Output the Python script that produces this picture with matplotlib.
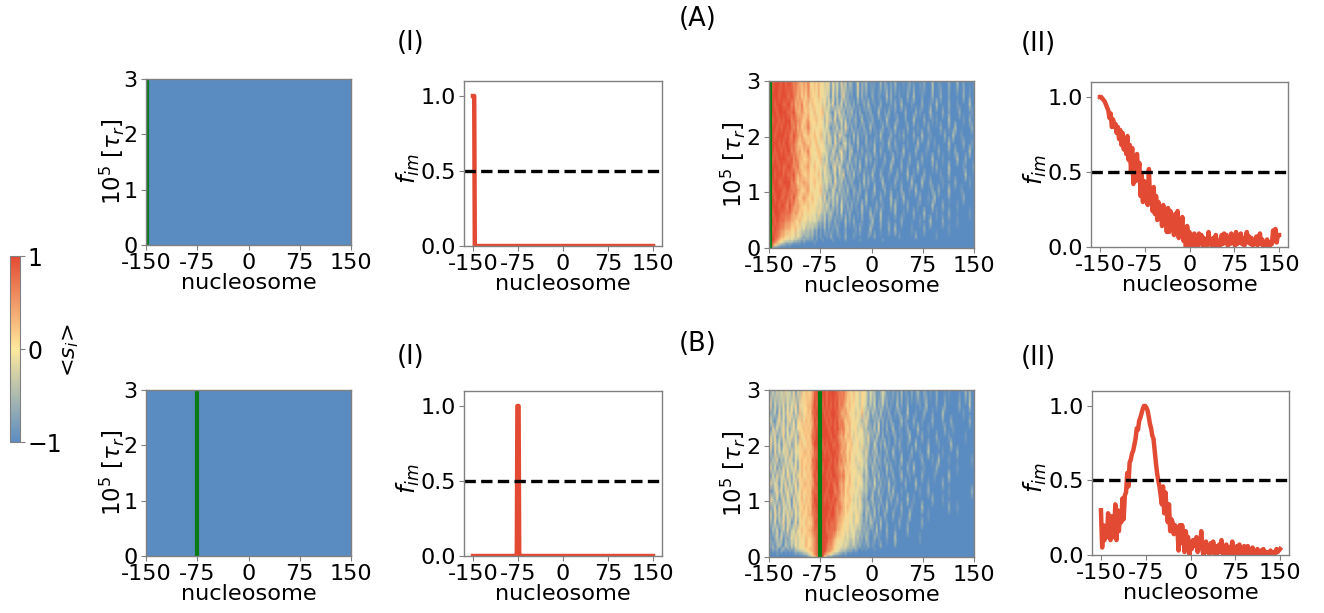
import numpy as np
import matplotlib
matplotlib.use("Agg")
import matplotlib.pyplot as plt
from matplotlib.colors import LinearSegmentedColormap, Normalize
from matplotlib.cm import ScalarMappable

W, H = 1324, 613
XTICKS = [-150, -75, 0, 75, 150]
XTICKLABELS = ["-150", "-75", "0", "75", "150"]
YTICKS_T = [0, 1, 2, 3]
YTICKS_F = [0.0, 0.5, 1.0]
SITE_A = -149
SITE_B = -75

# f_im, panel (II) of row A, one value every 2 nucleosomes from -150
FIM_A2 = [
    1.0,1.0,.99,.98,.97,.95,.93,.91,.86,.89,
    .80,.85,.80,.82,.76,.80,.72,.78,.68,.76,
    .65,.72,.62,.74,.58,.68,.50,.66,.42,.60,
    .44,.62,.50,.56,.34,.48,.30,.44,.32,.40,
    .28,.52,.30,.36,.24,.40,.22,.34,.18,.30,
    .20,.24,.14,.28,.18,.20,.10,.26,.10,.24,
    .14,.20,.08,.22,.10,.24,.06,.18,.10,.20,
    .04,.12,.00,.14,.05,.10,.00,.08,.03,.09,
    .00,.07,.00,.09,.03,.08,.01,.06,.00,.03,
    .01,.10,.02,.05,.00,.06,.00,.08,.02,.04,
    .00,.04,.08,.02,.09,.03,.08,.01,.05,.02,
    .09,.03,.06,.01,.10,.02,.07,.03,.09,.02,
    .06,.01,.05,.10,.03,.07,.02,.06,.01,.04,
    .02,.07,.01,.03,.09,.02,.05,.00,.03,.01,
    .05,.02,.00,.03,.02,.11,.04,.12,.03,.08,
    .08,
]
# f_im, panel (II) of row B
FIM_B2 = [
    .30,.05,.20,.10,.18,.12,.28,.14,.10,.26,
    .17,.12,.34,.10,.30,.16,.28,.22,.38,.24,
    .40,.42,.55,.46,.62,.64,.68,.70,.74,.78,
    .85,.84,.90,.92,.95,.98,1.0,1.0,.99,.97,
    .93,.88,.85,.80,.78,.70,.62,.55,.50,.46,
    .40,.34,.46,.28,.42,.30,.22,.34,.16,.24,
    .22,.14,.20,.16,.18,.03,.20,.08,.20,.12,
    .02,.16,.10,.12,.00,.08,.04,.10,.06,.08,
    .12,.02,.10,.05,.16,.03,.00,.07,.09,.02,
    .06,.00,.08,.02,.09,.01,.06,.00,.03,.07,
    .02,.10,.01,.04,.00,.07,.02,.05,.00,.03,
    .09,.01,.04,.00,.06,.02,.07,.00,.03,.01,
    .06,.00,.02,.06,.00,.03,.01,.05,.00,.02,
    .00,.04,.01,.00,.03,.00,.04,.01,.00,.02,
    .00,.01,.03,.00,.02,.00,.01,.04,.02,.03,
    .04,
]
# f_im, panels (I)
FIM_POS_A1 = [-150, -149, -148, -147, 150]
FIM_VAL_A1 = [1.0, 1.0, 1.0, 0.0, 0.0]
FIM_POS_B1 = [-150, -78, -77, -76, -75, -74, -73, -72, 150]
FIM_VAL_B1 = [0.0, 0.0, 0.0, 1.0, 1.0, 1.0, 0.0, 0.0, 0.0]

# time of each heat-map row (units of 1e5 tau_r), bottom to top
TIME_ROWS = [0, .05, .10, .15, .20, .34, .48, .62, .76, .90, 1.04, 1.18, 1.32, 1.46,
             1.60, 1.74, 1.88, 2.02, 2.16, 2.30, 2.44, 2.58, 2.72, 3.0]

# <s_i>: digits 0..9 stand for -1..1; first row is the top slice, each digit 3 nucleosomes
HEAT_A = [
    "9989998989 9878766768 5465645354 1524151403 2015021301 0100302001 0300010020 0001020003 0010000200 0300100001",
    "9899989998 8987675657 6554654433 0413025120 1003020100 2001000302 0001000200 3000100002 0002000100 0000200100",
    "9998999889 9786768566 4655453524 2503140312 0201002030 0100200001 0200300001 0000200010 0300000200 0100000300",
    "8999899998 8897667656 5464556343 1042513021 3010200102 0003001020 0100002000 0201000030 0000200100 0020000010",
    "9989989899 9788776567 5556454253 3150241302 0120030010 2000100300 0020001000 3000020001 0100000300 0000100200",
    "9999898998 9878675668 6454554342 0214031520 2010102003 0100020010 0300000200 0010000200 0002000100 3000000020",
    "8998999989 8798767556 5565463425 2140532101 0302010200 0010300002 0001020000 2000300010 0000020003 0001000000",
    "9899989899 8887656765 6456445323 3052103412 0103000201 0200010030 0200000100 0030000200 1000000300 0000200010",
    "9998998989 9787675668 5545654432 1420351202 3001020010 0300200001 0010030000 0200001000 0020000100 2000000300",
    "9989899998 8978766556 6454563241 3215042103 0120100302 0010002000 3000100020 0000200003 0000100000 0300020000",
    "8999989889 9877865667 5465443532 0351420130 2010300100 0200010003 0000200100 0030000001 0200000300 0000100002",
    "9998999898 8897676556 5554652433 2140325012 0301002010 3000200010 0020000300 1000020000 0001000200 0000030000",
    "9899988999 9787566766 4565453342 3052130201 2000103020 0100030000 0200100003 0000300020 0000100000 2000000100",
    "9989999889 8878765567 5454563231 1420312030 0210200100 0300002001 0000200010 0300000002 0020000300 0001000000",
    "9998998898 8797656765 5645442503 2314021201 0102000300 1000200003 0010030000 0002000100 3000000100 0000200000",
    "8999989987 9876765556 4554353242 0312041020 2010030100 0020010002 0300000200 0010000003 0000200000 0100000000",
    "9989998888 8767656545 5443532312 3102030102 0001020003 0100300000 0200010000 2000030000 0100000200 0000000100",
    "9998988877 7665564453 4343221302 1020100301 0200010000 3000200010 0000200000 0001000030 0000200000 0100000000",
    "9989887766 6556443423 2312010201 0102000100 0010200003 0000100020 0300000001 0000020000 0000000100 0000000000",
    "9998876654 5443432122 1201010010 2000100200 0100000010 0200000000 0001000000 0200000000 0100000000 0000000000",
    "9998765544 3433221211 1101001000 0100000100 0000100000 0000010000 0000000000 0000000000 0000000000 0000000000",
    "9987654322 2211110100 0010000000 0000000000 0000000000 0000000000 0000000000 0000000000 0000000000 0000000000",
    "9975321110 1000000000 0000000000 0000000000 0000000000 0000000000 0000000000 0000000000 0000000000 0000000000",
    "9310000000 0000000000 0000000000 0000000000 0000000000 0000000000 0000000000 0000000000 0000000000 0000000000",
]
HEAT_B = [
    "3141524253 4150526465 5689899989 9998878765 4645355414 3210243010 2010301002 0130020010 0200000100 0000030200",
    "2504132514 2435154556 6798998989 8989787656 5544354313 1402130201 0030100200 0001003000 0100020000 0020000300",
    "4123051425 3514263556 5889999898 9998866765 4535463240 3120301020 0102000300 0100020001 0000300000 0000100000",
    "2410352413 5241546465 6698999989 8989787566 5454323521 0213020102 0000301000 2000100002 0000100020 0000000200",
    "3052413524 1352455656 5789899998 9989878656 4553452312 1304010200 3001000200 0030000100 0000020001 0000000000",
    "1425032514 3524164565 6889989999 8998767566 5354443251 2031020010 0200100030 0000200000 0200000100 0000010000",
    "3514240352 4125356456 5799998989 9889876755 6445353231 0410203010 0102000100 0300000200 0010000030 0000000000",
    "2305142435 1524455665 6688999898 9998867656 5454432520 2130100200 3000100002 0001000300 0000100000 0200000000",
    "4132503142 5314256556 5889899999 8989786756 4534543312 0302102010 0100300010 0000200001 0030000100 0000000010",
    "2514031524 2435146565 6789998998 9988767565 5453342410 3120100302 0001000200 3000010000 0200000000 0100000000",
    "3041523415 3142556456 5798999989 8998878656 4544531320 1203010100 2000300010 0000200000 1000000300 0000000000",
    "1524304251 4235155665 6689899998 9889767556 5435442312 0410201030 0100002000 0300000100 0000200000 0000000000",
    "4013524135 2415346556 5888999989 9978867565 4544332310 2103010020 3000100000 0001000200 0000000100 0000000020",
    "2531402514 3052456465 6799899898 9898766556 5343521201 3010200102 0020000300 1000000002 0000100000 0000000000",
    "3124051342 4135255656 5889989999 8987876565 4453431230 1202010300 0100200001 0000300000 0000000200 0100000000",
    "1405231425 2514346556 6788999998 9987766554 5345320312 0301002000 2000100030 0000000100 0000000000 0000000000",
    "3214032513 4025155465 5689899989 8887665454 4354321203 2010300100 0002000100 0000200000 0000000000 0000000000",
    "2031402315 1342546556 6788899988 8886655453 4432312120 1030100200 0100000200 0000000000 0000000000 0000000000",
    "3102314021 2435345465 5678989998 8765545343 3423120310 0201000100 0300000000 0001000000 0000000000 0000000000",
    "4120231032 1324354565 5678899987 7654443432 2321201020 1000200000 0100000000 0000000000 0000000000 0000000000",
    "3021201302 1213344455 6678899987 7654433322 2121010100 0100000000 0000000000 0000000000 0000000000 0000000000",
    "2010102010 1012223345 5678899977 6544322211 1010000000 0000000000 0000000000 0000000000 0000000000 0000000000",
    "1000100000 0001011223 4578899765 4322110100 0000000000 0000000000 0000000000 0000000000 0000000000 0000000000",
    "0000000000 0000000001 2357899520 1000000000 0000000000 0000000000 0000000000 0000000000 0000000000 0000000000",
]

HEAT_BLUE = [[-1.0, -1.0], [-1.0, -1.0]]

BLUE, YELLOW, RED = "#5b8cc1", "#fee99c", "#e34a33"
GREEN = "#0a7a14"
GREY = "#808080"
cmap = LinearSegmentedColormap.from_list("rdylbu_like", [BLUE, YELLOW, RED])
norm = Normalize(-1, 1)
plt.rcParams.update({"font.size": 16, "font.family": "DejaVu Sans", "mathtext.default": "it"})


def box(l, t, r, b):
    return fig.add_axes([l / W, 1 - b / H, (r - l) / W, (b - t) / H])


def style(ax):
    for s in ax.spines.values():
        s.set_color(GREY)
        s.set_linewidth(1.0)
    ax.tick_params(colors=GREY, labelcolor="black", labelsize=16, length=3.5, pad=2.5)
    ax.set_xticks(XTICKS, XTICKLABELS)


def rows_to_values(rows):
    table = []
    for row in rows[::-1]:
        digits = row.replace(" ", "")
        table.append([-1 + 2 * int(c) / 9 for c in digits])
    return np.array(table)


def heat(rect, values, site, ylab_x):
    ax = box(*rect)
    values = np.array(values)
    xc = np.linspace(-150, 150, values.shape[1])
    yc = TIME_ROWS if values.shape[0] == len(TIME_ROWS) else [0, 3]
    ax.pcolormesh(xc, yc, values, cmap=cmap, norm=norm, shading="gouraud", rasterized=True)
    ax.axvline(site, color=GREEN, lw=3)
    ax.set_xlim(-150, 150)
    ax.set_ylim(0, 3)
    style(ax)
    ax.set_yticks(YTICKS_T)
    ax.set_xlabel("nucleosome", fontsize=16.2, labelpad=0)
    fig.text(ylab_x / W, 1 - (rect[1] + rect[3]) / 2 / H, r"$10^5$ [$\tau_r$]", rotation=90,
             ha="center", va="center", fontsize=16.5)
    return ax


def fim(rect, x, y, ylab_x):
    ax = box(*rect)
    ax.plot(x, y, color=RED, lw=3.2, solid_joinstyle="round")
    ax.axhline(0.5, color="black", lw=2.4, dashes=(3.4, 1.6))
    ax.set_xlim(-165, 165)
    ax.set_ylim(0, 1.1)
    style(ax)
    ax.set_yticks(YTICKS_F, ["0.0", "0.5", "1.0"])
    ax.set_xlabel("nucleosome", fontsize=16.2, labelpad=0)
    fig.text(ylab_x / W, 1 - ((rect[1] + rect[3]) / 2 + 5) / H, r"$f_{im}$", rotation=90,
             ha="center", va="center", fontsize=17.5)
    return ax


fig = plt.figure(figsize=(W / 100, H / 100), dpi=100)

heat((146, 79, 351, 245), HEAT_BLUE, SITE_A, 112)
fim((464, 81, 662, 246), FIM_POS_A1, FIM_VAL_A1, 408)
heat((769, 81, 974, 248), rows_to_values(HEAT_A), SITE_A, 733)
fim((1091, 82, 1288, 247), np.linspace(-150, 150, len(FIM_A2)), FIM_A2, 1035)

heat((146, 390, 351, 556), HEAT_BLUE, SITE_B, 112)
fim((464, 391, 662, 556), FIM_POS_B1, FIM_VAL_B1, 408)
heat((769, 390, 974, 557), rows_to_values(HEAT_B), SITE_B, 733)
fim((1092, 391, 1289, 555), np.linspace(-150, 150, len(FIM_B2)), FIM_B2, 1035)

cax = box(10, 256, 20, 442)
cb = fig.colorbar(ScalarMappable(norm=norm, cmap=cmap), cax=cax, ticks=[-1, 0, 1])
cb.ax.set_yticklabels(["\u22121", "0", "1"])
cb.ax.tick_params(labelsize=17, colors=GREY, labelcolor="black", length=3.5, pad=2)
cb.outline.set_edgecolor(GREY)
fig.text(71 / W, 1 - 350 / H, r"<$s_i$>", rotation=90, ha="center", va="center", fontsize=16)

for label, px, py in [("(A)", 698, 19), ("(B)", 698, 344), ("(I)", 411, 43), ("(I)", 411, 357),
                      ("(II)", 1038, 44), ("(II)", 1038, 358)]:
    fig.text(px / W, 1 - py / H, label, ha="center", va="center", fontsize=18.5)

fig.savefig("out.png", dpi=100)
